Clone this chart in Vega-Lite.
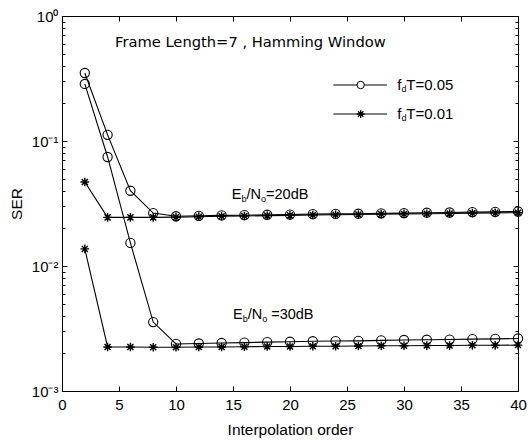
{
  "$schema": "https://vega.github.io/schema/vega-lite/v6.json",
  "width": 456,
  "height": 375,
  "autosize": {"type": "none"},
  "padding": {"left": 62, "top": 16, "right": 12, "bottom": 54},
  "background": "white",
  "config": {
    "view": {"stroke": "black", "strokeWidth": 1},
    "font": "Liberation Sans",
    "axis": {
      "domainColor": "black", "tickColor": "black", "labelColor": "black", "titleColor": "black",
      "labelFont": "Liberation Sans", "titleFont": "Liberation Sans",
      "labelFontSize": 15, "titleFontSize": 15.5, "titleFontWeight": "normal", "grid": false
    }
  },
  "datasets": {
    "ser": [
      {"x":2,"ser":0.35,"fdT":"0.05","snr":"20","s":"A"},{"x":4,"ser":0.112,"fdT":"0.05","snr":"20","s":"A"},{"x":6,"ser":0.040,"fdT":"0.05","snr":"20","s":"A"},{"x":8,"ser":0.0265,"fdT":"0.05","snr":"20","s":"A"},{"x":10,"ser":0.0250,"fdT":"0.05","snr":"20","s":"A"},{"x":12,"ser":0.0252,"fdT":"0.05","snr":"20","s":"A"},{"x":14,"ser":0.0254,"fdT":"0.05","snr":"20","s":"A"},{"x":16,"ser":0.0255,"fdT":"0.05","snr":"20","s":"A"},{"x":18,"ser":0.0257,"fdT":"0.05","snr":"20","s":"A"},{"x":20,"ser":0.0258,"fdT":"0.05","snr":"20","s":"A"},{"x":22,"ser":0.0260,"fdT":"0.05","snr":"20","s":"A"},{"x":24,"ser":0.0261,"fdT":"0.05","snr":"20","s":"A"},{"x":26,"ser":0.0262,"fdT":"0.05","snr":"20","s":"A"},{"x":28,"ser":0.0264,"fdT":"0.05","snr":"20","s":"A"},{"x":30,"ser":0.0265,"fdT":"0.05","snr":"20","s":"A"},{"x":32,"ser":0.0267,"fdT":"0.05","snr":"20","s":"A"},{"x":34,"ser":0.0268,"fdT":"0.05","snr":"20","s":"A"},{"x":36,"ser":0.0270,"fdT":"0.05","snr":"20","s":"A"},{"x":38,"ser":0.0271,"fdT":"0.05","snr":"20","s":"A"},{"x":40,"ser":0.0273,"fdT":"0.05","snr":"20","s":"A"},
      {"x":2,"ser":0.286,"fdT":"0.05","snr":"30","s":"B"},{"x":4,"ser":0.0745,"fdT":"0.05","snr":"30","s":"B"},{"x":6,"ser":0.0153,"fdT":"0.05","snr":"30","s":"B"},{"x":8,"ser":0.00356,"fdT":"0.05","snr":"30","s":"B"},{"x":10,"ser":0.00238,"fdT":"0.05","snr":"30","s":"B"},{"x":12,"ser":0.00240,"fdT":"0.05","snr":"30","s":"B"},{"x":14,"ser":0.00242,"fdT":"0.05","snr":"30","s":"B"},{"x":16,"ser":0.00244,"fdT":"0.05","snr":"30","s":"B"},{"x":18,"ser":0.00246,"fdT":"0.05","snr":"30","s":"B"},{"x":20,"ser":0.00248,"fdT":"0.05","snr":"30","s":"B"},{"x":22,"ser":0.00250,"fdT":"0.05","snr":"30","s":"B"},{"x":24,"ser":0.00251,"fdT":"0.05","snr":"30","s":"B"},{"x":26,"ser":0.00252,"fdT":"0.05","snr":"30","s":"B"},{"x":28,"ser":0.00254,"fdT":"0.05","snr":"30","s":"B"},{"x":30,"ser":0.00256,"fdT":"0.05","snr":"30","s":"B"},{"x":32,"ser":0.00257,"fdT":"0.05","snr":"30","s":"B"},{"x":34,"ser":0.00258,"fdT":"0.05","snr":"30","s":"B"},{"x":36,"ser":0.00260,"fdT":"0.05","snr":"30","s":"B"},{"x":38,"ser":0.00261,"fdT":"0.05","snr":"30","s":"B"},{"x":40,"ser":0.00263,"fdT":"0.05","snr":"30","s":"B"},
      {"x":2,"ser":0.047,"fdT":"0.01","snr":"20","s":"C"},{"x":4,"ser":0.0245,"fdT":"0.01","snr":"20","s":"C"},{"x":6,"ser":0.0245,"fdT":"0.01","snr":"20","s":"C"},{"x":8,"ser":0.0245,"fdT":"0.01","snr":"20","s":"C"},{"x":10,"ser":0.0246,"fdT":"0.01","snr":"20","s":"C"},{"x":12,"ser":0.0248,"fdT":"0.01","snr":"20","s":"C"},{"x":14,"ser":0.0250,"fdT":"0.01","snr":"20","s":"C"},{"x":16,"ser":0.0251,"fdT":"0.01","snr":"20","s":"C"},{"x":18,"ser":0.0253,"fdT":"0.01","snr":"20","s":"C"},{"x":20,"ser":0.0254,"fdT":"0.01","snr":"20","s":"C"},{"x":22,"ser":0.0256,"fdT":"0.01","snr":"20","s":"C"},{"x":24,"ser":0.0257,"fdT":"0.01","snr":"20","s":"C"},{"x":26,"ser":0.0258,"fdT":"0.01","snr":"20","s":"C"},{"x":28,"ser":0.0260,"fdT":"0.01","snr":"20","s":"C"},{"x":30,"ser":0.0261,"fdT":"0.01","snr":"20","s":"C"},{"x":32,"ser":0.0262,"fdT":"0.01","snr":"20","s":"C"},{"x":34,"ser":0.0263,"fdT":"0.01","snr":"20","s":"C"},{"x":36,"ser":0.0265,"fdT":"0.01","snr":"20","s":"C"},{"x":38,"ser":0.0266,"fdT":"0.01","snr":"20","s":"C"},{"x":40,"ser":0.0267,"fdT":"0.01","snr":"20","s":"C"},
      {"x":2,"ser":0.0137,"fdT":"0.01","snr":"30","s":"D"},{"x":4,"ser":0.00225,"fdT":"0.01","snr":"30","s":"D"},{"x":6,"ser":0.00225,"fdT":"0.01","snr":"30","s":"D"},{"x":8,"ser":0.00224,"fdT":"0.01","snr":"30","s":"D"},{"x":10,"ser":0.00224,"fdT":"0.01","snr":"30","s":"D"},{"x":12,"ser":0.00225,"fdT":"0.01","snr":"30","s":"D"},{"x":14,"ser":0.00225,"fdT":"0.01","snr":"30","s":"D"},{"x":16,"ser":0.00226,"fdT":"0.01","snr":"30","s":"D"},{"x":18,"ser":0.00227,"fdT":"0.01","snr":"30","s":"D"},{"x":20,"ser":0.00227,"fdT":"0.01","snr":"30","s":"D"},{"x":22,"ser":0.00228,"fdT":"0.01","snr":"30","s":"D"},{"x":24,"ser":0.00228,"fdT":"0.01","snr":"30","s":"D"},{"x":26,"ser":0.00229,"fdT":"0.01","snr":"30","s":"D"},{"x":28,"ser":0.00230,"fdT":"0.01","snr":"30","s":"D"},{"x":30,"ser":0.00230,"fdT":"0.01","snr":"30","s":"D"},{"x":32,"ser":0.00231,"fdT":"0.01","snr":"30","s":"D"},{"x":34,"ser":0.00231,"fdT":"0.01","snr":"30","s":"D"},{"x":36,"ser":0.00232,"fdT":"0.01","snr":"30","s":"D"},{"x":38,"ser":0.00232,"fdT":"0.01","snr":"30","s":"D"},{"x":40,"ser":0.00233,"fdT":"0.01","snr":"30","s":"D"}
    ],
    "legend": [
      {"x":23.8,"x2":28.5,"xm":26.2,"y":0.2805,"fdT":"0.05"},
      {"x":23.8,"x2":28.5,"xm":26.2,"y":0.1644,"fdT":"0.01"}
    ],
    "labels": [
      {"x":4.65,"y":0.608,"t":"Frame Length=7 , Hamming Window","k":"title"},
      {"x":14.9,"y":0.037,"t":"E","k":"main"},
      {"x":15.75,"y":0.037,"t":"b","k":"sub"},
      {"x":16.19,"y":0.037,"t":"/N","k":"main"},
      {"x":17.46,"y":0.037,"t":"o","k":"sub"},
      {"x":17.9,"y":0.037,"t":"=20dB","k":"main"},
      {"x":15.0,"y":0.00406,"t":"E","k":"main"},
      {"x":15.85,"y":0.00406,"t":"b","k":"sub"},
      {"x":16.29,"y":0.00406,"t":"/N","k":"main"},
      {"x":17.56,"y":0.00406,"t":"o","k":"sub"},
      {"x":18.35,"y":0.00406,"t":"=30dB","k":"main"},
      {"x":29.4,"y":0.2805,"t":"f","k":"leg"},
      {"x":29.77,"y":0.2805,"t":"d","k":"legsub"},
      {"x":30.2,"y":0.2805,"t":"T=0.05","k":"leg"},
      {"x":29.4,"y":0.1644,"t":"f","k":"leg"},
      {"x":29.77,"y":0.1644,"t":"d","k":"legsub"},
      {"x":30.2,"y":0.1644,"t":"T=0.01","k":"leg"}
    ]
  },
  "resolve": {"axis": {"x": "independent", "y": "independent"}},
  "layer": [
    {
      "data": {"name": "ser"},
      "mark": {"type": "line", "color": "black", "strokeWidth": 1.1},
      "encoding": {
        "x": {"field": "x", "type": "quantitative", "scale": {"domain": [0, 40], "nice": false, "zero": false},
          "axis": {"orient": "bottom", "values": [0,5,10,15,20,25,30,35,40], "tickSize": -5, "labelPadding": 11, "title": "Interpolation order", "titlePadding": 10, "labelFlush": false}},
        "y": {"field": "ser", "type": "quantitative", "scale": {"type": "log", "domain": [0.001, 1], "nice": false},
          "axis": {"orient": "left",
            "values": [0.001,0.002,0.003,0.004,0.005,0.006,0.007,0.008,0.009,0.01,0.02,0.03,0.04,0.05,0.06,0.07,0.08,0.09,0.1,0.2,0.3,0.4,0.5,0.6,0.7,0.8,0.9,1],
            "labelExpr": "datum.value == 1 ? '10⁰' : datum.value == 0.1 ? '10⁻¹' : datum.value == 0.01 ? '10⁻²' : datum.value == 0.001 ? '10⁻³' : ''",
            "tickSize": {"condition": {"test": "datum.value == 1 || datum.value == 0.1 || datum.value == 0.01 || datum.value == 0.001", "value": -5}, "value": -3},
            "labelPadding": 9, "labelFlush": false, "labelOverlap": false, "title": "SER", "titlePadding": 7}},
        "detail": {"field": "s"}
      }
    },
    {
      "data": {"name": "ser"},
      "transform": [{"filter": "datum.fdT == '0.05'"}],
      "mark": {"type": "point", "shape": "circle", "filled": false, "stroke": "black", "strokeWidth": 1.1, "size": 85, "opacity": 1},
      "encoding": {
        "x": {"field": "x", "type": "quantitative", "axis": {"orient": "top", "values": [0,5,10,15,20,25,30,35,40], "labels": false, "tickSize": -5, "title": null}},
        "y": {"field": "ser", "type": "quantitative", "scale": {"type": "log"},
          "axis": {"orient": "right", "values": [0.001,0.002,0.003,0.004,0.005,0.006,0.007,0.008,0.009,0.01,0.02,0.03,0.04,0.05,0.06,0.07,0.08,0.09,0.1,0.2,0.3,0.4,0.5,0.6,0.7,0.8,0.9,1],
            "labels": false, "title": null,
            "tickSize": {"condition": {"test": "datum.value == 1 || datum.value == 0.1 || datum.value == 0.01 || datum.value == 0.001", "value": -5}, "value": -3}}}
      }
    },
    {
      "data": {"name": "ser"},
      "transform": [{"filter": "datum.fdT == '0.01'"}],
      "mark": {"type": "point", "shape": "M-1,0L1,0M0,-1L0,1M-0.7,-0.7L0.7,0.7M-0.7,0.7L0.7,-0.7", "filled": false, "stroke": "black", "strokeWidth": 1.4, "size": 75, "opacity": 1},
      "encoding": {
        "x": {"field": "x", "type": "quantitative", "axis": null},
        "y": {"field": "ser", "type": "quantitative", "scale": {"type": "log"}, "axis": null}
      }
    },
    {
      "data": {"name": "legend"},
      "mark": {"type": "rule", "color": "black", "strokeWidth": 1},
      "encoding": {
        "x": {"field": "x", "type": "quantitative", "axis": null},
        "x2": {"field": "x2"},
        "y": {"field": "y", "type": "quantitative", "scale": {"type": "log"}, "axis": null}
      }
    },
    {
      "data": {"name": "legend"},
      "transform": [{"filter": "datum.fdT == '0.05'"}],
      "mark": {"type": "point", "shape": "circle", "filled": true, "fill": "white", "stroke": "black", "strokeWidth": 1, "size": 55, "opacity": 1},
      "encoding": {
        "x": {"field": "xm", "type": "quantitative", "axis": null},
        "y": {"field": "y", "type": "quantitative", "scale": {"type": "log"}, "axis": null}
      }
    },
    {
      "data": {"name": "legend"},
      "transform": [{"filter": "datum.fdT == '0.01'"}],
      "mark": {"type": "point", "shape": "M-1,0L1,0M0,-1L0,1M-0.7,-0.7L0.7,0.7M-0.7,0.7L0.7,-0.7", "filled": false, "stroke": "black", "strokeWidth": 1.3, "size": 60, "opacity": 1},
      "encoding": {
        "x": {"field": "xm", "type": "quantitative", "axis": null},
        "y": {"field": "y", "type": "quantitative", "scale": {"type": "log"}, "axis": null}
      }
    },
    {
      "data": {"name": "labels"},
      "transform": [{"filter": "datum.k == 'title'"}],
      "mark": {"type": "text", "align": "left", "baseline": "middle", "font": "DejaVu Sans", "fontSize": 14.7, "color": "black"},
      "encoding": {
        "x": {"field": "x", "type": "quantitative", "axis": null},
        "y": {"field": "y", "type": "quantitative", "scale": {"type": "log"}, "axis": null},
        "text": {"field": "t"}
      }
    },
    {
      "data": {"name": "labels"},
      "transform": [{"filter": "datum.k == 'main'"}],
      "mark": {"type": "text", "align": "left", "baseline": "middle", "font": "Liberation Sans", "fontSize": 14.5, "color": "black"},
      "encoding": {
        "x": {"field": "x", "type": "quantitative", "axis": null},
        "y": {"field": "y", "type": "quantitative", "scale": {"type": "log"}, "axis": null},
        "text": {"field": "t"}
      }
    },
    {
      "data": {"name": "labels"},
      "transform": [{"filter": "datum.k == 'sub'"}],
      "mark": {"type": "text", "align": "left", "baseline": "middle", "font": "Liberation Sans", "fontSize": 9, "dy": 4, "color": "black"},
      "encoding": {
        "x": {"field": "x", "type": "quantitative", "axis": null},
        "y": {"field": "y", "type": "quantitative", "scale": {"type": "log"}, "axis": null},
        "text": {"field": "t"}
      }
    },
    {
      "data": {"name": "labels"},
      "transform": [{"filter": "datum.k == 'leg'"}],
      "mark": {"type": "text", "align": "left", "baseline": "middle", "font": "Liberation Sans", "fontSize": 15, "color": "black"},
      "encoding": {
        "x": {"field": "x", "type": "quantitative", "axis": null},
        "y": {"field": "y", "type": "quantitative", "scale": {"type": "log"}, "axis": null},
        "text": {"field": "t"}
      }
    },
    {
      "data": {"name": "labels"},
      "transform": [{"filter": "datum.k == 'legsub'"}],
      "mark": {"type": "text", "align": "left", "baseline": "middle", "font": "Liberation Sans", "fontSize": 9, "dy": 4, "color": "black"},
      "encoding": {
        "x": {"field": "x", "type": "quantitative", "axis": null},
        "y": {"field": "y", "type": "quantitative", "scale": {"type": "log"}, "axis": null},
        "text": {"field": "t"}
      }
    }
  ]
}
